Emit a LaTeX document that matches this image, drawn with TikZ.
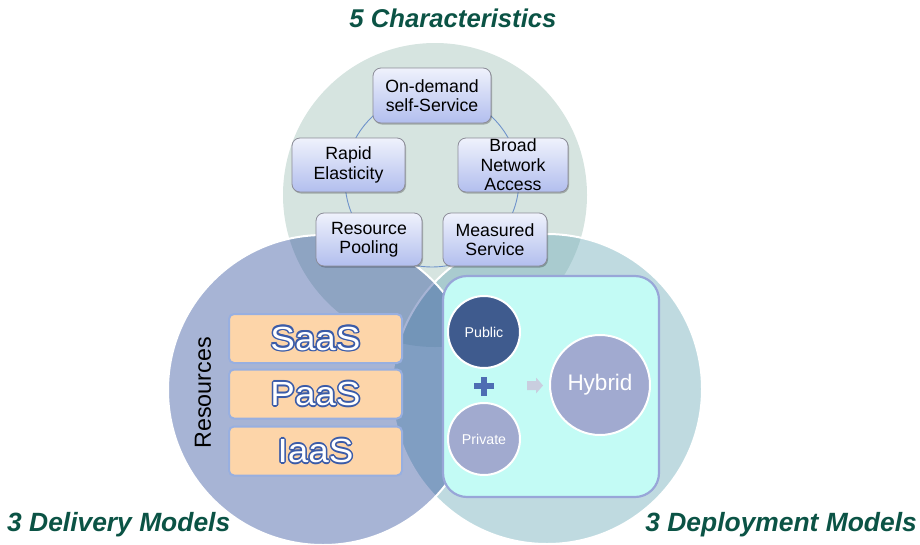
\documentclass[tikz,border=0pt]{standalone}
\usepackage{fontspec}
\setmainfont{Liberation Sans}
\newfontfamily\wideSans[FakeStretch=1.1]{Liberation Sans}
\usetikzlibrary{shadows}
\definecolor{topc}{HTML}{D6E4E0}
\definecolor{rightc}{RGB}{116,175,188}
\definecolor{leftc}{RGB}{35,68,150}
\definecolor{ringc}{HTML}{6F93CB}
\definecolor{boxtop}{HTML}{EFF2FC}
\definecolor{boxbot}{HTML}{B2BEEE}
\definecolor{boxline}{HTML}{8C8C98}
\definecolor{delfill}{HTML}{FDD5A9}
\definecolor{delline}{HTML}{98AFE0}
\definecolor{haloc}{HTML}{3A5BA8}
\definecolor{depfill}{HTML}{C3FBF5}
\definecolor{depline}{HTML}{98A6D8}
\definecolor{pubc}{HTML}{3F5B8E}
\definecolor{privc}{HTML}{A1AACF}
\definecolor{hybc}{HTML}{A1AAD0}
\definecolor{plusc}{HTML}{4E6DB3}
\definecolor{arrc}{HTML}{C9CEDF}
\definecolor{titlec}{HTML}{0B5345}
\newcommand\hshift[3]{\makebox[0pt][l]{\hspace*{#1}\raisebox{#2}{#3}}}
\newcommand\halotext[1]{{\color{haloc}%
\hshift{1.6pt}{0pt}{#1}\hshift{-1.6pt}{0pt}{#1}\hshift{0pt}{1.6pt}{#1}\hshift{0pt}{-1.6pt}{#1}%
\hshift{1.13pt}{1.13pt}{#1}\hshift{-1.13pt}{1.13pt}{#1}\hshift{1.13pt}{-1.13pt}{#1}\hshift{-1.13pt}{-1.13pt}{#1}}%
\textcolor{white}{#1}}
\begin{document}
\begin{tikzpicture}[x=1pt,y=-1pt,
  bigcirc/.style={circle, inner sep=0pt, outer sep=0pt},
  charbox/.style={rectangle, rounded corners=8pt, draw=boxline, line width=0.8pt,
    top color=boxtop, bottom color=boxbot, align=center, inner sep=0pt,
    drop shadow={shadow xshift=1pt, shadow yshift=-1.5pt, opacity=0.25, fill=black},
    font=\fontsize{17.7}{19.5}\selectfont},
  delbox/.style={rectangle, rounded corners=5pt, fill=delfill, draw=delline, line width=2pt,
    minimum width=173pt, minimum height=49pt, inner sep=0pt},
  deltext/.style={inner sep=0pt, font=\wideSans\fontsize{33.5}{36}\selectfont},
  dcirc/.style={circle, draw=white, line width=2pt, inner sep=0pt, text=white},
  title/.style={inner sep=0pt, text=titlec, font=\bfseries\itshape\fontsize{26.4}{30}\selectfont}
]
\useasboundingbox (0,0) rectangle (920,544);
% big circles
\node[bigcirc, fill=topc, minimum size=304pt] (ctop) at (435,195) {};
\node[bigcirc, fill=rightc, fill opacity=0.46, draw=white, draw opacity=1, line width=2pt, minimum size=310pt] (cright) at (547,389) {};
\node[bigcirc, fill=leftc, fill opacity=0.4, draw=white, draw opacity=1, line width=2pt, minimum size=310pt] (cleft) at (323,390) {};
% ring behind characteristics
\draw[ringc, line width=0.9pt] (432,180) circle (87pt);
% characteristics
\node[charbox, minimum width=118pt, minimum height=55pt] (od) at (432,95.5) {On-demand\\self-Service};
\node[charbox, minimum width=113pt, minimum height=54pt] (re) at (348.5,165) {Rapid\\Elasticity};
\node[charbox, minimum width=110pt, minimum height=54pt] (bna) at (513,165) {Broad\\Network\\Access};
\node[charbox, minimum width=106pt, minimum height=53pt] (rp) at (369,239.5) {Resource\\Pooling};
\node[charbox, minimum width=104pt, minimum height=53pt] (ms) at (495,239.5) {Measured\\Service};
% delivery models
\node[delbox] (saas) at (315.5,338.5) {};
\node[delbox] (paas) at (315.5,394) {};
\node[delbox] (iaas) at (315.5,451) {};
\node[deltext] (saast) at (saas) {\halotext{SaaS}};
\node[deltext] (paast) at (paas) {\halotext{PaaS}};
\node[deltext] (iaast) at (iaas) {\halotext{IaaS}};
\node[rotate=90, inner sep=0pt, font=\fontsize{23.3}{26}\selectfont] (res) at (203,393) {Resources};
% deployment models
\node[rectangle, rounded corners=24pt, fill=depfill, draw=depline, line width=2.2pt,
  minimum width=216pt, minimum height=221pt, inner sep=0pt] (dep) at (551,386.5) {};
\node[dcirc, fill=pubc, minimum size=72pt, font=\fontsize{14.2}{16}\selectfont] (pub) at (484,332) {Public};
\node[dcirc, fill=privc, minimum size=72pt, font=\fontsize{14.2}{16}\selectfont] (priv) at (484,439) {Private};
\node[dcirc, fill=hybc, minimum size=100pt, font=\fontsize{22.5}{24}\selectfont] (hyb) at (600,385) {Hybrid};
\coordinate (plus) at (484,386);
\fill[plusc] ([xshift=-10pt,yshift=-3.2pt]plus) rectangle ([xshift=10pt,yshift=3.2pt]plus);
\fill[plusc] ([xshift=-3.2pt,yshift=-9.5pt]plus) rectangle ([xshift=3.2pt,yshift=9.5pt]plus);
\coordinate (arr) at (527,385.5);
\fill[arrc] ([yshift=4.5pt]arr) -- ++(9,0) -- ++(0,-3.5) -- ++(7,8) -- ++(-7,8) -- ++(0,-3.5) -- ++(-9,0) -- cycle;
% titles
\node[title, anchor=base, font=\bfseries\itshape\fontsize{25.7}{30}\selectfont] (t5) at (453,27) {5 Characteristics};
\node[title, anchor=base west] (tdel) at (7,531) {3 Delivery Models};
\node[title, anchor=base east] (tdep) at (917,531) {3 Deployment Models};
\end{tikzpicture}
\end{document}
